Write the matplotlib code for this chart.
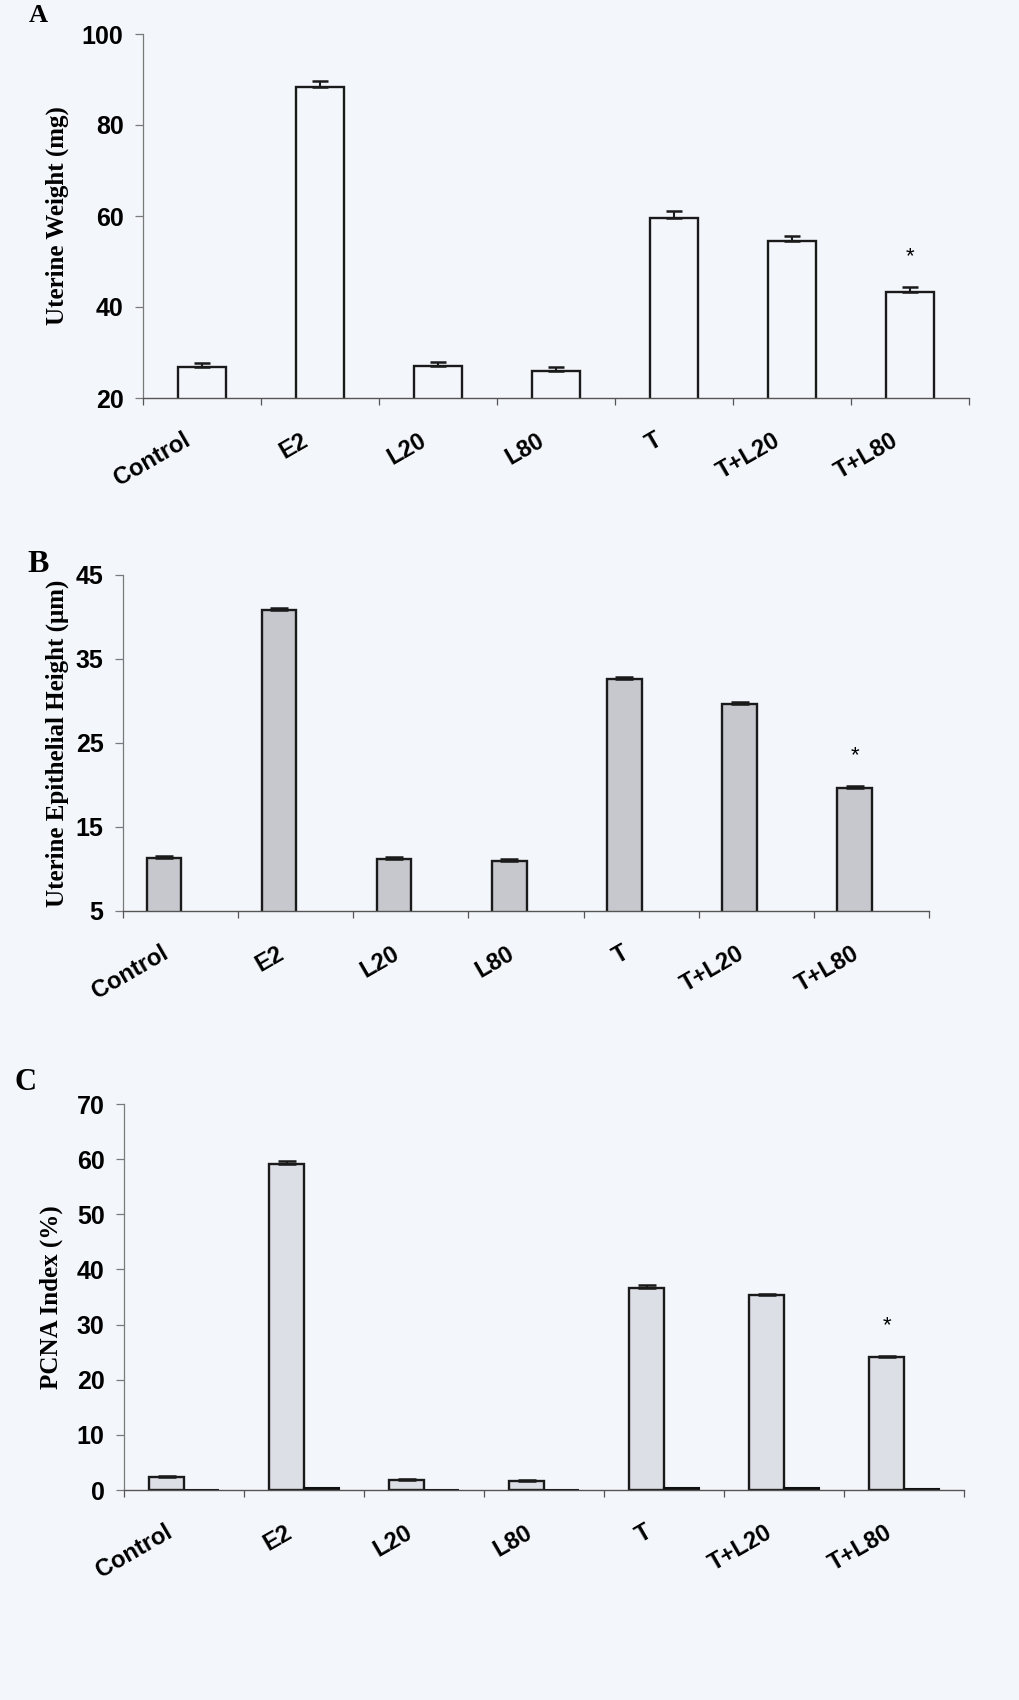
import numpy as np
import matplotlib
matplotlib.use('Agg')
from matplotlib import pyplot as plt
from matplotlib.transforms import ScaledTranslation

groups = ['Control', 'E2', 'L20', 'L80', 'T', 'T+L20', 'T+L80']

# A: uterine weight (mg)
weight = [26.9, 88.3, 27.0, 25.9, 59.6, 54.5, 43.2]
weight_err = [0.9, 1.3, 1.0, 1.0, 1.5, 1.0, 1.1]

# B: uterine epithelial height (um)
epith = [11.3, 40.8, 11.2, 11.0, 32.6, 29.7, 19.7]
epith_err = [0.2, 0.3, 0.2, 0.2, 0.3, 0.2, 0.15]

# C: PCNA index (%), plus second (near zero) series
pcna = [2.3, 59.2, 1.9, 1.7, 36.7, 35.3, 24.1]
pcna_err = [0.2, 0.4, 0.1, 0.1, 0.4, 0.3, 0.2]
pcna_second = [0, 0.3, 0, 0, 0.3, 0.3, 0.2]

star_group = 'T+L80'

bg = '#f3f6fb'
W, H = 1019, 1700
fig = plt.figure(figsize=(W / 100, H / 100), dpi=100, facecolor=bg)


def px_axes(left, right, top, bottom):
    return fig.add_axes([left / W, 1 - bottom / H, (right - left) / W, (bottom - top) / H])


def style(ax, ylim, yticks, ylabel, label_x):
    x = np.arange(len(groups))
    ax.set_facecolor(bg)
    ax.set_xlim(-0.5, len(groups) - 0.5)
    ax.set_ylim(*ylim)
    ax.set_yticks(yticks)
    for s in ['top', 'right']:
        ax.spines[s].set_visible(False)
    ax.spines['left'].set_color('#7a7a7a')
    ax.spines['left'].set_linewidth(0.9)
    ax.spines['bottom'].set_color('#555555')
    ax.spines['bottom'].set_linewidth(1.0)
    ax.tick_params(axis='y', length=6, width=0.9, color='#7a7a7a', pad=8)
    ax.set_xticks(x)
    ax.set_xticks(np.arange(len(groups) + 1) - 0.5, minor=True)
    ax.tick_params(axis='x', which='major', length=0, pad=22)
    ax.tick_params(axis='x', which='minor', length=5, width=0.9, color='#555555')
    ax.set_xticklabels(groups, rotation=30, ha='right', va='top')
    off = ScaledTranslation(-8 / 100, 0, fig.dpi_scale_trans)
    for lab in ax.get_xticklabels():
        lab.set_transform(lab.get_transform() + off)
        lab.set_fontsize(17)
        lab.set_fontweight('bold')
        lab.set_family('Liberation Sans')
    for lab in ax.get_yticklabels():
        lab.set_fontsize(18)
        lab.set_fontweight('bold')
        lab.set_family('Liberation Sans')
    ax.set_ylabel(ylabel, family='Liberation Serif', fontweight='bold', fontsize=18, va='center')
    ax.yaxis.set_label_coords(label_x, 0.5)


def bars(ax, vals, errs, width, shift, face, capsize):
    x = np.arange(len(groups)) + shift
    ax.bar(x, vals, width, bottom=0, facecolor=face, edgecolor='#1a1a1a', linewidth=1.7, zorder=2)
    ax.errorbar(x, vals, yerr=[np.zeros(len(vals)), errs], fmt='none', ecolor='#1a1a1a',
                elinewidth=1.5, capsize=capsize, capthick=1.8, zorder=3)
    i = groups.index(star_group)
    ax.annotate('*', (x[i], vals[i] + errs[i]), xytext=(0, 22), textcoords='offset points',
                ha='center', va='center', fontsize=16, family='Liberation Sans')


# Panel A
axA = px_axes(143, 969, 34, 398)
style(axA, (20, 100), [20, 40, 60, 80, 100], 'Uterine Weight (mg)', -0.1035)
bars(axA, weight, weight_err, 0.41, 0, bg, 5.8)
axA.set_ylim(20, 100)

# Panel B
axB = px_axes(123, 929, 575, 911)
style(axB, (5, 45), [5, 15, 25, 35, 45], 'Uterine Epithelial Height (\u03bcm)', -0.0813)
bars(axB, epith, epith_err, 0.30, -0.145, '#c6c8ce', 6.5)
axB.set_ylim(5, 45)

# Panel C
axC = px_axes(124, 964, 1104, 1490)
style(axC, (0, 70), [0, 10, 20, 30, 40, 50, 60, 70], 'PCNA Index (%)', -0.0869)
bars(axC, pcna, pcna_err, 0.29, -0.145, '#dcdfe6', 6.5)
axC.bar(np.arange(len(groups)) + 0.145, pcna_second, 0.29, facecolor='#111111',
        edgecolor='#111111', linewidth=1.5, zorder=2)
axC.set_ylim(0, 70)

for lbl, x, y, fs in [('A', 38, 15, 19), ('B', 38, 564, 23), ('C', 26, 1083, 22)]:
    fig.text(x / W, 1 - y / H, lbl, family='Liberation Serif', fontweight='bold',
             fontsize=fs, ha='center', va='center')

fig.savefig('out.png', dpi=100, facecolor=bg)
